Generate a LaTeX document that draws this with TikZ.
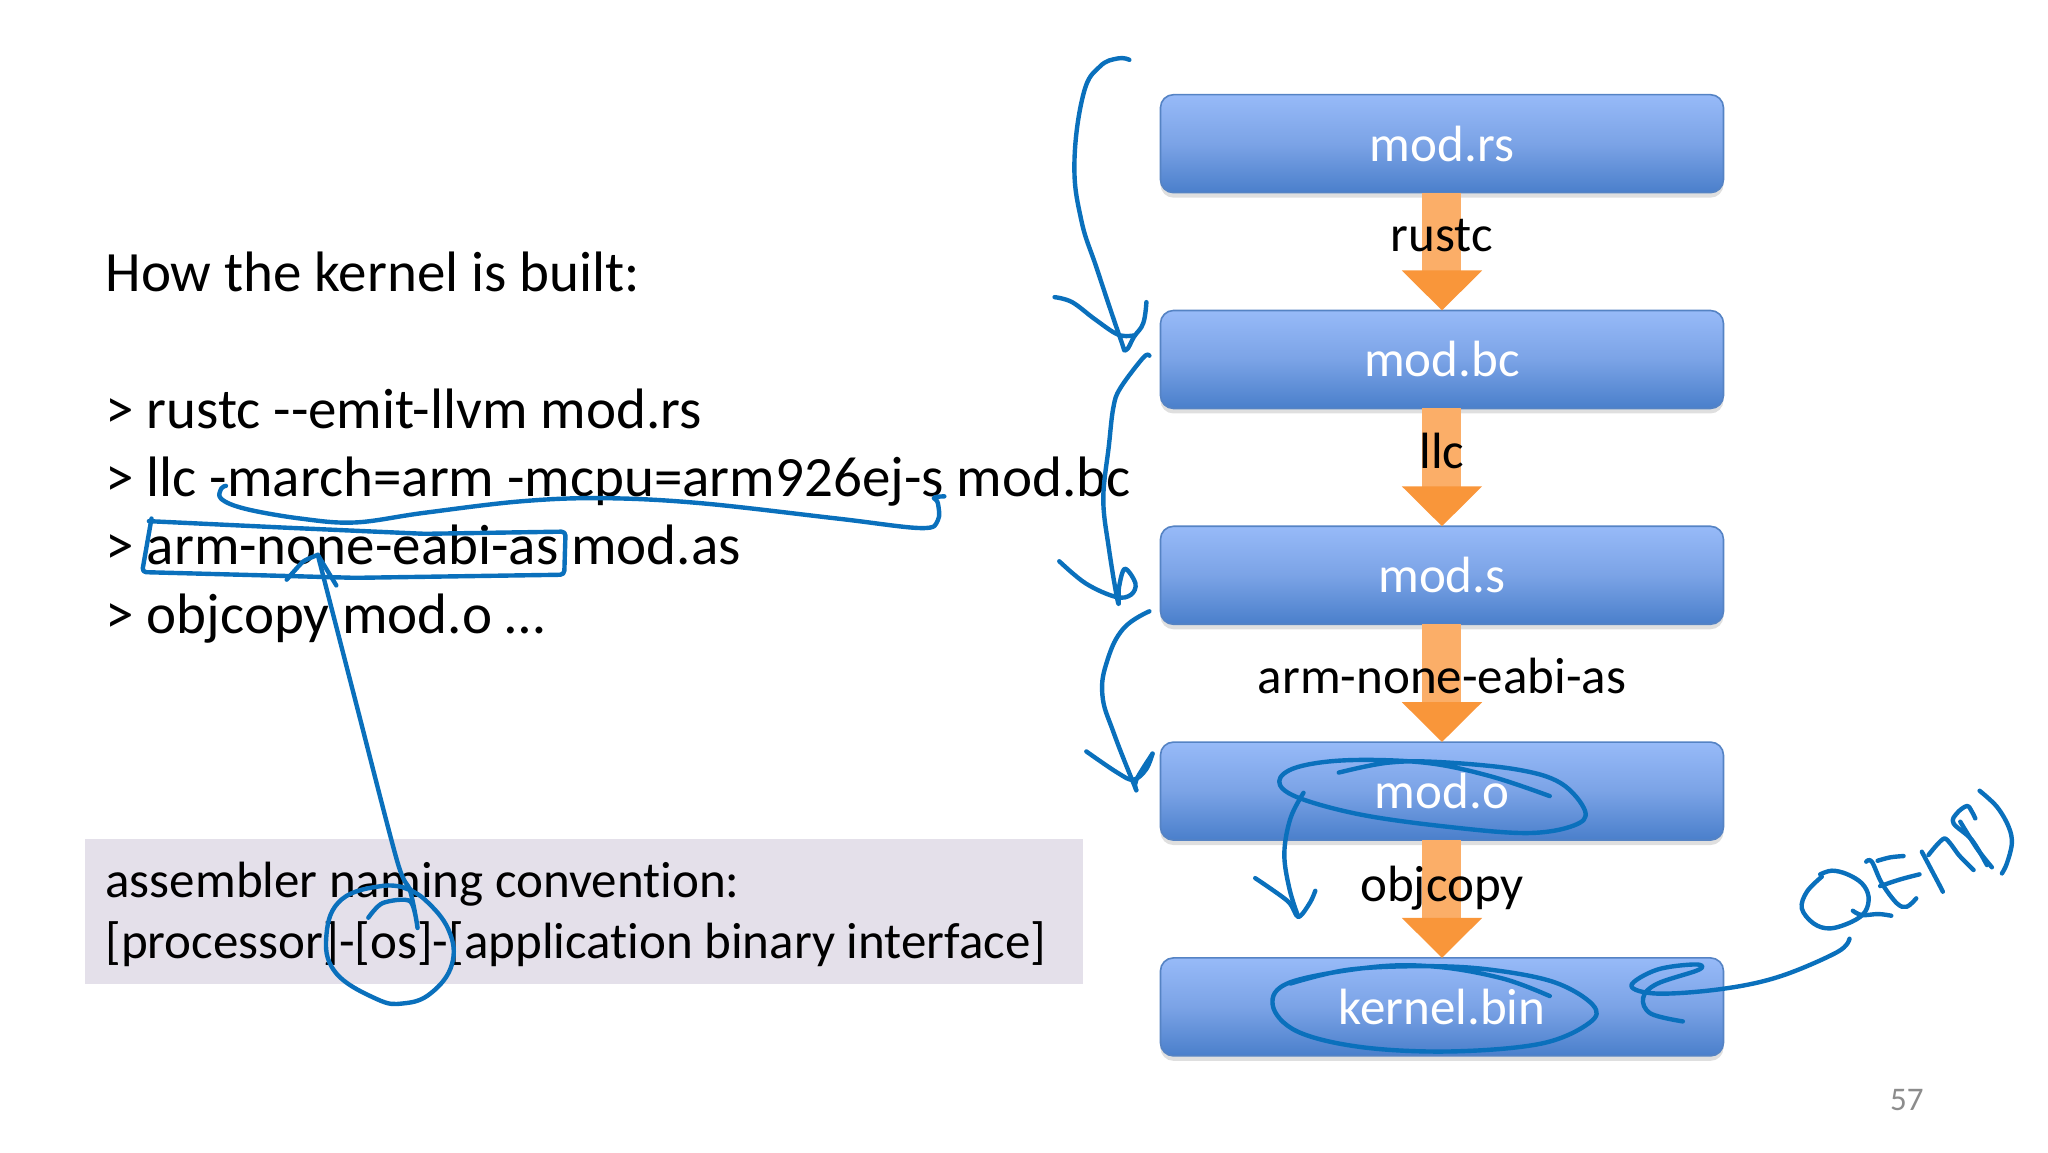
\documentclass[tikz,border=0pt]{standalone}
\usepackage{fontspec}
\setmainfont{Carlito}[Ligatures=NoCommon]
\usetikzlibrary{positioning, arrows.meta, shadows}
\definecolor{inkblue}{HTML}{0A70BC}
\definecolor{boxtop}{HTML}{97BAF8}
\definecolor{boxmid}{HTML}{7BA3E6}
\definecolor{boxbot}{HTML}{4A7FCB}
\definecolor{boxline}{HTML}{5583C4}
\definecolor{shaft}{HTML}{FBAE68}
\definecolor{head}{HTML}{F9963A}
\definecolor{notefill}{HTML}{E4E0EA}
\tikzset {
    x=0.65306pt,
    y=-0.65306pt,
    node distance=58.9pt,
    stage/.style={draw=boxline, line width=0.8pt, rounded corners=6.5pt, minimum width=281.5pt,
        minimum height=49pt, inner sep=0pt, outer sep=0pt, top color=boxtop, bottom color=boxbot, middle color=boxmid,
        text=white, font=\fontsize{25.5}{30}\selectfont,
        drop shadow={shadow xshift=0pt, shadow yshift=-2.5pt, opacity=.25, fill=gray}},
    flow/.style={draw=shaft, line width=19.5pt,
        -{Triangle[length=20pt, width=39pt, fill=head, color=head]}},
    tool/.style={text=black, inner sep=0pt, font=\fontsize{25.5}{30}\selectfont},
    cmdline/.style={anchor=base west, inner sep=0pt, font=\fontsize{28.5}{34}\selectfont},
    noteline/.style={anchor=base west, inner sep=0pt, font=\fontsize{25.5}{30}\selectfont},
    ink/.style={draw=inkblue, line width=2.2pt, line cap=round, line join=round}
}
\begin{document}
\begin{tikzpicture}
\useasboundingbox (0,0) rectangle (1568,882);

% slide text
\node[cmdline] (howline) at (80.5,223.5) {How the kernel is built:};
\node[cmdline] (rustcline) at (80.5,328) {> rustc -{}-emit-llvm mod.rs};
\node[cmdline] (llcline) at (80.5,380.5) {> llc -march=arm -mcpu=arm926ej-s mod.bc};
\node[cmdline] (asline) at (80.5,432.5) {> arm-none-eabi-as mod.as};
\node[cmdline] (objline) at (80.5,485) {> objcopy mod.o …};

% naming convention box
\node[fill=notefill, anchor=north west, minimum width=499pt, minimum height=72.5pt,
      inner sep=0pt] (namebox) at (65,642) {};
\node[noteline] (nameone) at (80.5,687) {assembler naming convention:};
\node[noteline] (nametwo) at (80.5,734) {[processor]-[os]-[application binary interface]};

% build chain
\node[stage] (modrs) at (1104,110) {mod.rs};
\node[stage, below=of modrs] (modbc) {mod.bc};
\node[stage, below=of modbc] (mods) {mod.s};
\node[stage, below=of mods] (modo) {mod.o};
\node[stage, below=of modo] (kernel) {kernel.bin};

\draw[flow] (modrs) -- (modbc) node[tool, pos=.36] (rustc) {rustc};
\draw[flow] (modbc) -- (mods) node[tool, pos=.36] (llc) {llc};
\draw[flow] (mods) -- (modo) node[tool, pos=.44] (as) {arm-none-eabi-as};
\draw[flow] (modo) -- (kernel) node[tool, pos=.41] (objcopy) {objcopy};

\node[text=black!45, font=\fontsize{16.5}{20}\selectfont] (pagenum) at (1460,842) {57};

% pen strokes, left side
\draw[ink] plot[smooth, tension=.6] coordinates {(173,372) (169.4,374) (169.4,382) (188,389.6) (230,397) (272,400)
    (325,392.6) (399,383.8) (462,381.4) (536,385.2) (641,397) (705,404.3) (718,398.4) (718,385) (715,381) (723,380)};
\draw[ink, rounded corners=2pt] (116,397) -- (108.8,438) -- (272,442.4) -- (432,440) -- (433,407) -- (325,408.7) -- (219,404) -- (114,399);
\draw[ink] plot[smooth, tension=.5] coordinates {(282,702.6) (293,691.4) (314,690) (319.7,710.5) (314,682) (304,659) (272,536) (243.3,424.8)};
\draw[ink] plot[smooth, tension=.3] coordinates {(219.5,443.8) (232,430) (243.3,424.8)};
\draw[ink] (243.3,424.8) -- (257.5,448.2);
\draw[ink] plot[smooth, tension=.7] coordinates {(314.5,681) (293.4,678.2) (261.7,688.5) (250,715) (256.5,744) (288,764.7)
    (309,768.2) (330,760.3) (346,738.3) (343.5,712) (325,688.5) (309,679.7)};

% pen strokes, chain arrows
\draw[ink] plot[smooth, tension=.7] coordinates {(864.7,45.8) (856,44.7) (842,51) (829.6,71.6) (822.6,124.4) (827.8,168.3)
    (840,206.4) (857.7,259) (862,268) (868.3,257.7) (875.3,247.4) (877.7,231.3)};
\draw[ink] plot[smooth, tension=.6] coordinates {(807.4,227.5) (820.8,231.3) (838.4,244.5) (856,256.2) (868.3,256.8)};
\draw[ink] plot[smooth, tension=.6] coordinates {(880,272.3) (875.3,273.8) (857.7,297.2) (852.4,312) (849,341) (844.7,382)
    (849,420) (856,461.3) (856.7,449.6) (861.2,435.5) (869.3,446.7) (865.8,455.4) (854.2,457) (831.3,446.7) (811,429.7)};
\draw[ink] plot[smooth, tension=.7] coordinates {(880,468) (860.3,481) (848,505) (844,532) (853,562) (870,605)};
\draw[ink] plot[smooth, tension=.6] coordinates {(870,605) (870,597) (882.4,577)};
\draw[ink] plot[smooth, tension=.6] coordinates {(882.4,577) (877.5,589) (867.7,597) (855.4,591.5) (831.7,575.3)};

% pen strokes, circled outputs
\draw[ink] plot[smooth, tension=.6] coordinates {(1186.5,609.5) (1140.8,594.2) (1091.6,584) (1032.5,582) (993,587.4) (979.4,598.2)
    (993,610.3) (1042.4,623.8) (1111,633.3) (1170,637.8) (1205,632) (1213.6,621) (1195,599.6) (1160.5,589) (1101,583.4) (1062,584) (1025,591.5)};
\draw[ink] plot[smooth, tension=.6] coordinates {(998,607) (988,626.5) (983.3,653.5) (987.2,680.4) (994,702)};
\draw[ink] plot[smooth, tension=.5] coordinates {(961,672.3) (986,690) (994,702) (1003,691) (1007,682)};
\draw[ink] plot[smooth, tension=.6] coordinates {(1186.5,762.6) (1150.6,749.2) (1101.4,740.3) (1052,740.3) (988,752) (974.4,769.4)
    (993,789.6) (1042.4,801.7) (1111,805) (1180,799) (1217,783) (1219.5,769.4) (1190,752) (1141,742.4) (1091.6,739.7) (1032.5,742.4) (988,753)};

% pen strokes, QEMU note
\draw[ink] plot[smooth, tension=.6] coordinates {(1416,718.7) (1406.5,729) (1362,747.8) (1318,757.2) (1268.7,760.7) (1249,754.6)
    (1268.7,742.4) (1298,738.4) (1300.7,742.4) (1268.7,753.2) (1258,764) (1263.8,776) (1288.4,782)};
\draw[ink] plot[smooth, tension=.6] coordinates {(1393.6,669.4) (1402.5,666.6) (1414,669.2) (1425.5,676.3) (1430.6,686.5) (1428,698)
    (1417.8,705.7) (1401.2,710.8) (1388.5,707) (1379.5,695.5) (1383.4,682.7) (1394.8,671.2)};
\draw[ink] plot[smooth, tension=.6] coordinates {(1418.6,697.3) (1425.5,700.6) (1438.2,699.8) (1448,701.1)};
\draw[ink] plot[smooth, tension=.6] coordinates {(1428.8,659.7) (1433.1,659.7) (1440.8,676.3) (1452.3,691.6) (1459.9,694.2) (1467.1,687.8)};
\draw[ink] plot[smooth, tension=.6] coordinates {(1437.5,659) (1447.2,656.4) (1457.4,655.4)};
\draw[ink] plot[smooth, tension=.6] coordinates {(1439.5,678.4) (1454.8,673.3) (1469.6,669.4)};
\draw[ink] plot[smooth, tension=.4] coordinates {(1487.5,682.7) (1484.2,676.3) (1471.4,652.1)};
\draw[ink] plot[smooth, tension=.4] coordinates {(1476.5,654.6) (1488.8,641.9) (1500,655) (1511,666.1)};
\draw[ink] plot[smooth, tension=.5] coordinates {(1525,664) (1513.5,649.5) (1500.8,629.1)};
\draw[ink] plot[smooth, tension=.6] coordinates {(1521.2,662.3) (1509.7,643.1) (1495.7,630.4) (1498.2,622.7) (1505.9,617.1) (1509.7,621.4) (1512.3,626.6)};
\draw[ink] plot[smooth, tension=.6] coordinates {(1515.6,605.4) (1528.8,617.6) (1537.8,632.9) (1540.3,645.7) (1536.5,661) (1532.7,668.7)};
\end{tikzpicture}
\end{document}
